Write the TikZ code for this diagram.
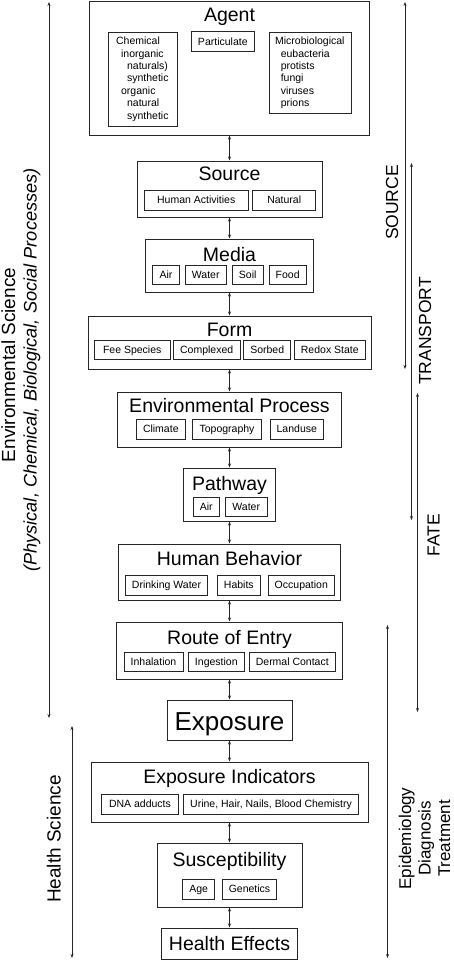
\documentclass[tikz,border=0pt]{standalone}
\usepackage{fontspec}
\setmainfont{Liberation Sans}
\usepackage{tikz}
\usetikzlibrary{
    arrows.meta,
    positioning
}
\tikzset{outbox/.style={draw=black!85, line width=1pt, inner sep=0pt}}
\tikzset{inbox/.style={draw=black!85, line width=0.8pt, inner sep=0pt, minimum height=19.5pt, text height=7.5pt, text depth=0.5pt, font=\fontsize{10.5}{12.4}\selectfont}}
\tikzset{listbox/.style={draw=black!85, line width=0.8pt, inner xsep=6pt, inner ysep=0pt, align=left, anchor=north west, font=\fontsize{10.5}{12.4}\selectfont}}
\tikzset{ttl/.style={anchor=base, inner sep=0pt, font=\fontsize{19.5}{23}\selectfont}}
\tikzset{link/.style={draw, {Stealth[length=4pt,width=3pt]}-{Stealth[length=4pt,width=3pt]}, line width=0.8pt, black!85}}
\tikzset{vlab/.style={rotate=90, anchor=base, inner sep=0pt}}

\begin{document}
\begin{tikzpicture}[x=1pt, y=-1pt]
                        \useasboundingbox (0, 0) rectangle (453, 961);

                        \node[outbox, minimum width=280.5pt, minimum height=134pt] (agent) at (229.5, 68) {};
                        \node[outbox, minimum width=185pt, minimum height=56pt] (source) at (229.5, 189) {};
                        \node[outbox, minimum width=168pt, minimum height=53pt] (media) at (229.5, 265.5) {};
                        \node[outbox, minimum width=283pt, minimum height=53pt] (form) at (229.5, 342.5) {};
                        \node[outbox, minimum width=224pt, minimum height=55pt] (envp) at (229.5, 419.5) {};
                        \node[outbox, minimum width=92pt, minimum height=53pt] (path) at (229.5, 494.5) {};
                        \node[outbox, minimum width=222pt, minimum height=56pt] (behav) at (229.5, 572) {};
                        \node[outbox, minimum width=226pt, minimum height=57pt] (route) at (229.5, 650.5) {};
                        \node[outbox, minimum width=125pt, minimum height=40pt] (expo) at (229.5, 720) {};
                        \node[outbox, minimum width=277pt, minimum height=60pt] (indic) at (229.5, 792) {};
                        \node[outbox, minimum width=145pt, minimum height=64pt] (susc) at (229.5, 875) {};
                        \node[outbox, minimum width=136pt, minimum height=31pt] (health) at (229.5, 943.5) {};

                        \node[ttl] (agentT) at (229.5, 21) {Agent};
                        \node[ttl] (sourceT) at (229.5, 180) {Source};
                        \node[ttl] (mediaT) at (229.5, 261) {Media};
                        \node[ttl] (formT) at (229.5, 336) {Form};
                        \node[ttl] (envpT) at (229.5, 412.7) {Environmental Process};
                        \node[ttl] (pathT) at (229.5, 490.7) {Pathway};
                        \node[ttl] (behavT) at (229.5, 565) {Human Behavior};
                        \node[ttl] (routeT) at (229.5, 644) {Route of Entry};
                        \node[ttl, font=\fontsize{26}{30}\selectfont] (expoT) at (229.5, 730) {Exposure};
                        \node[ttl] (indicT) at (229.5, 783) {Exposure Indicators};
                        \node[ttl] (suscT) at (229.5, 866) {Susceptibility};
                        \node[ttl] (healthT) at (229.5, 950.7) {Health Effects};

                        \node[listbox, inner xsep=7.4pt, text width=54.2pt, minimum height=94.3pt] (chem) at (108.3, 31.7)
                            {Chemical\\\hspace*{5pt}inorganic\\\hspace*{11pt}naturals)\\\hspace*{11pt}synthetic\\\hspace*{5pt}organic\\\hspace*{11pt}natural\\\hspace*{11pt}synthetic};
                        \node[inbox, minimum width=63pt] (partic) at (222.8, 41.5) {Particulate};
                        \node[listbox, text width=70pt, minimum height=81.6pt] (micro) at (268.7, 31.7)
                            {Microbiological\\\hspace*{5.7pt}eubacteria\\\hspace*{5.7pt}protists\\\hspace*{5.7pt}fungi\\\hspace*{5.7pt}viruses\\\hspace*{5.7pt}prions};

                        \node[inbox, minimum width=104pt] (human) at (196.2, 200.3) {Human Activities};
                        \node[inbox, minimum width=63pt] (natural) at (284.2, 200.3) {Natural};

                        \node[inbox, minimum width=26.6pt] (mair) at (166, 274.7) {Air};
                        \node[inbox, minimum width=41.3pt] (mwater) at (205.7, 274.7) {Water};
                        \node[inbox, minimum width=31.3pt] (soil) at (247.7, 274.7) {Soil};
                        \node[inbox, minimum width=37.3pt] (food) at (287.7, 274.7) {Food};

                        \node[inbox, minimum width=75.7pt] (free) at (132.2, 350) {Fee Species};
                        \node[inbox, minimum width=66.7pt] (cplx) at (206.7, 350) {Complexed};
                        \node[inbox, minimum width=47pt] (sorb) at (267.2, 350) {Sorbed};
                        \node[inbox, minimum width=71pt] (redox) at (329.8, 350) {Redox State};

                        \node[inbox, minimum width=49.7pt] (clim) at (160.8, 429.3) {Climate};
                        \node[inbox, minimum width=69.4pt] (topo) at (227, 429.3) {Topography};
                        \node[inbox, minimum width=53.7pt] (land) at (296.8, 429.3) {Landuse};

                        \node[inbox, minimum width=26pt] (pair) at (206.3, 507) {Air};
                        \node[inbox, minimum width=41.7pt] (pwater) at (246.2, 507) {Water};

                        \node[inbox, minimum width=82.4pt] (drink) at (166.5, 585.3) {Drinking Water};
                        \node[inbox, minimum width=43pt] (habit) at (238.8, 585.3) {Habits};
                        \node[inbox, minimum width=66pt] (occup) at (301.3, 585.3) {Occupation};

                        \node[inbox, minimum width=59pt] (inhal) at (153.5, 661.7) {Inhalation};
                        \node[inbox, minimum width=56pt] (inges) at (216.3, 661.7) {Ingestion};
                        \node[inbox, minimum width=86pt] (derm) at (292.3, 661.7) {Dermal Contact};

                        \node[inbox, minimum width=77.4pt] (dna) at (140, 804.2) {DNA adducts};
                        \node[inbox, minimum width=175.4pt] (urine) at (271, 804.2) {Urine, Hair, Nails, Blood Chemistry};

                        \node[inbox, minimum width=32pt] (age) at (198.7, 889.3) {Age};
                        \node[inbox, minimum width=54.4pt] (genet) at (249.5, 889.3) {Genetics};

                        \node[vlab, font=\fontsize{19}{23}\selectfont] (envsci) at (15, 365) {Environmental Science};
                        \node[vlab, font=\fontsize{18.2}{22}\selectfont\itshape] (procs) at (36.5, 370) {(Physical, Chemical, Biological, Social Processes)};
                        \node[vlab, font=\fontsize{19}{23}\selectfont] (hlthsci) at (60.5, 839) {Health Science};
                        \node[vlab, font=\fontsize{17.5}{21}\selectfont] (srcL) at (398, 202.5) {SOURCE};
                        \node[vlab, font=\fontsize{17.5}{21}\selectfont] (trnL) at (431, 331) {TRANSPORT};
                        \node[vlab, font=\fontsize{17.5}{21}\selectfont] (fateL) at (439.5, 535) {FATE};
                        \node[rotate=90, inner sep=0pt, align=center, font=\fontsize{17}{19.5}\selectfont] (epiL) at (424.5, 838.5)
                            {Epidemiology\\Diagnosis\\Treatment};

                        \coordinate (envA) at (49, 2);
                        \coordinate (envB) at (49, 718);
                        \coordinate (hsA) at (72, 726);
                        \coordinate (hsB) at (72, 958);
                        \coordinate (srcA) at (405, 2);
                        \coordinate (srcB) at (405, 369);
                        \coordinate (trnA) at (411.5, 163);
                        \coordinate (trnB) at (411.5, 520);
                        \coordinate (fateA) at (417.5, 393);
                        \coordinate (fateB) at (417.5, 712);
                        \coordinate (epiA) at (387.5, 625);
                        \coordinate (epiB) at (387.5, 958);

                        \path
                        (agent) edge[link] (source)
                        (source) edge[link] (media)
                        (media) edge[link] (form)
                        (form) edge[link] (envp)
                        (envp) edge[link] (path)
                        (path) edge[link] (behav)
                        (behav) edge[link] (route)
                        (route) edge[link] (expo)
                        (expo) edge[link] (indic)
                        (indic) edge[link] (susc)
                        (susc) edge[link] (health)
                        (envA) edge[link] (envB)
                        (hsA) edge[link] (hsB)
                        (srcA) edge[link] (srcB)
                        (trnA) edge[link] (trnB)
                        (fateA) edge[link] (fateB)
                        (epiA) edge[link] (epiB);
                    \end{tikzpicture}
\end{document}
